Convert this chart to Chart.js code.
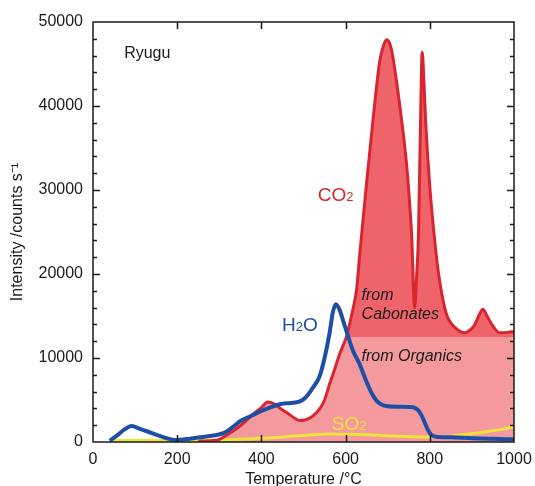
<!DOCTYPE html>
<html>
<head>
<meta charset="utf-8">
<title>Ryugu evolved gas</title>
<script src="https://cdn.jsdelivr.net/npm/chart.js@4.4.1/dist/chart.umd.min.js"></script>
<style>
  html, body { margin: 0; padding: 0; background: #fff; overflow: hidden; }
  canvas { display: block; }
</style>
</head>
<body>
<canvas id="egaChart" width="535" height="500"></canvas>
<script>
// ===== Evolved gas profiles (Ryugu) =====
const co2Temp   = [250, 280, 300, 320, 349, 380, 400, 415, 430, 445, 460, 480, 491, 505, 520, 538, 550, 562, 575, 586, 603, 616, 626, 633, 649, 665, 681, 690, 697, 705, 712, 728, 744, 752, 757, 764, 769, 773, 778, 782, 786, 790, 800, 815, 823, 839, 863, 883, 895, 906, 918, 926, 936, 946, 966, 985, 1000];
const co2Counts = [100, 150, 300, 900, 1900, 3300, 4100, 4750, 4550, 4000, 3500, 2800, 2550, 2650, 3000, 3900, 5000, 6900, 8800, 10500, 12700, 15500, 18100, 22000, 30400, 38300, 45300, 47200, 47900, 47400, 45900, 40300, 33500, 28500, 24500, 16000, 20000, 24500, 38300, 46400, 43000, 38300, 30400, 22400, 19300, 15300, 13500, 13000, 13300, 13900, 15200, 15800, 15000, 14100, 13000, 13050, 13150];

const h2oTemp   = [40, 55, 75, 92, 110, 130, 151, 175, 195, 230, 260, 290, 310, 330, 350, 375, 396, 420, 444, 470, 490, 505, 520, 538, 550, 562, 570, 577, 586, 595, 604, 618, 633, 647, 660, 672, 685, 700, 730, 760, 772, 780, 788, 796, 804, 820, 850, 900, 950, 1000];
const h2oCounts = [150, 700, 1500, 1900, 1600, 1250, 850, 450, 250, 400, 600, 800, 1050, 1700, 2500, 3100, 3600, 4100, 4500, 4650, 4800, 5300, 6300, 7800, 10000, 13000, 15500, 16400, 15700, 14300, 12900, 10800, 9300, 7500, 6000, 5000, 4450, 4250, 4200, 4150, 3800, 3200, 2300, 1400, 830, 600, 560, 450, 380, 320];

const so2Temp   = [40, 100, 200, 300, 400, 460, 520, 562, 633, 712, 792, 840, 871, 934, 970, 1000];
const so2Counts = [150, 200, 150, 250, 450, 630, 850, 950, 900, 710, 600, 650, 830, 1230, 1500, 1850];

// CO2 above this level is carbonate, below it organic
const ORGANIC_LEVEL = 12500;

const xTicks = [0, 200, 400, 600, 800, 1000];
const yTicks = [0, 10000, 20000, 30000, 40000, 50000];

const toPoints = (xs, ys) => xs.map((x, i) => ({ x: x, y: ys[i] }));

const FONT = "'Liberation Sans', Arial, Helvetica, sans-serif";
const RED = '#d7262f', BLUE = '#1e4fa6', YELLOW = '#efe23a';
const PINK_LIGHT = '#f49a9e', PINK_DARK = '#ef636b';

// text drawn inside the plot, placed in data units
const notes = [
    { text: 'Ryugu', sub: '', x: 74, y: 45700, color: '#1a1a1a', size: 16, italic: false },
    { text: 'CO', sub: '2', x: 534, y: 28700, color: RED, size: 19, italic: false },
    { text: 'H', sub: '2', tail: 'O', x: 449, y: 13200, color: BLUE, size: 19, italic: false },
    { text: 'SO', sub: '2', x: 567, y: 1450, color: YELLOW, size: 19, italic: false },
    { text: 'from', sub: '', x: 638, y: 16900, color: '#1a1a1a', size: 16, italic: true },
    { text: 'Cabonates', sub: '', x: 638, y: 14650, color: '#1a1a1a', size: 16, italic: true },
    { text: 'from Organics', sub: '', x: 638, y: 9650, color: '#1a1a1a', size: 16, italic: true }
];

// frame with inward ticks on all four sides, plus the in-plot labels
const framePlugin = {
    id: 'frame',
    afterDraw(chart) {
        const { ctx, chartArea: a, scales: { x, y } } = chart;
        ctx.save();
        ctx.strokeStyle = '#1a1a1a';
        ctx.lineWidth = 1.5;
        ctx.strokeRect(a.left, a.top, a.right - a.left, a.bottom - a.top);
        ctx.beginPath();
        xTicks.slice(1, -1).forEach(v => {
            const px = Math.round(x.getPixelForValue(v)) + 0.5;
            ctx.moveTo(px, a.bottom); ctx.lineTo(px, a.bottom - 7);
            ctx.moveTo(px, a.top); ctx.lineTo(px, a.top + 7);
        });
        for (let v = 2000; v < 50000; v += 2000) {
            const py = Math.round(y.getPixelForValue(v)) + 0.5;
            const len = v % 10000 ? 4 : 7;
            ctx.moveTo(a.left, py); ctx.lineTo(a.left + len, py);
            ctx.moveTo(a.right, py); ctx.lineTo(a.right - len, py);
        }
        ctx.stroke();

        ctx.textBaseline = 'alphabetic';
        ctx.textAlign = 'left';
        notes.forEach(n => {
            let px = x.getPixelForValue(n.x);
            const py = y.getPixelForValue(n.y);
            const style = n.italic ? 'italic ' : '';
            ctx.fillStyle = n.color;
            ctx.font = `${style}${n.size}px ${FONT}`;
            ctx.fillText(n.text, px, py);
            px += ctx.measureText(n.text).width;
            if (n.sub) {
                ctx.font = `${style}${Math.round(n.size * 0.7)}px ${FONT}`;
                ctx.fillText(n.sub, px, py);
                px += ctx.measureText(n.sub).width;
            }
            if (n.tail) {
                ctx.font = `${style}${n.size}px ${FONT}`;
                ctx.fillText(n.tail, px, py);
            }
        });
        ctx.restore();
    }
};

const co2Data = toPoints(co2Temp, co2Counts);

new Chart(document.getElementById('egaChart'), {
    type: 'line',
    data: {
        datasets: [
            { // whole CO2 area (organic part shows through)
                data: co2Data, borderWidth: 0, pointRadius: 0,
                backgroundColor: PINK_LIGHT, fill: 'origin',
                cubicInterpolationMode: 'monotone', order: 5
            },
            { // carbonate part above the organic level
                data: co2Data, borderWidth: 0, pointRadius: 0,
                fill: { target: { value: ORGANIC_LEVEL }, above: PINK_DARK, below: 'rgba(0,0,0,0)' },
                cubicInterpolationMode: 'monotone', order: 4
            },
            {
                label: 'SO2', data: toPoints(so2Temp, so2Counts),
                borderColor: YELLOW, borderWidth: 3, pointRadius: 0, fill: false,
                cubicInterpolationMode: 'monotone', order: 3
            },
            {
                label: 'CO2', data: co2Data,
                borderColor: RED, borderWidth: 3, pointRadius: 0, fill: false,
                cubicInterpolationMode: 'monotone', order: 2
            },
            {
                label: 'H2O', data: toPoints(h2oTemp, h2oCounts),
                borderColor: BLUE, borderWidth: 4, pointRadius: 0, fill: false,
                cubicInterpolationMode: 'monotone', order: 1
            }
        ]
    },
    options: {
        responsive: false, animation: false,
        layout: { padding: { top: 22, right: 21, left: 0, bottom: 0 } },
        plugins: { legend: { display: false }, tooltip: { enabled: false } },
        scales: {
            x: {
                type: 'linear', min: 0, max: 1000,
                afterBuildTicks: s => { s.ticks = xTicks.map(v => ({ value: v })); },
                afterFit: s => { s.height = 58; s.paddingLeft = 0; s.paddingRight = 0; },
                grid: { display: false, drawTicks: false }, border: { display: false },
                ticks: { color: '#1a1a1a', padding: 8, font: { family: FONT, size: 16 }, callback: v => String(v) },
                title: {
                    display: true, text: 'Temperature /°C', color: '#1a1a1a',
                    font: { family: FONT, size: 16 }, padding: { top: 0, bottom: 11 }
                }
            },
            y: {
                type: 'linear', min: 0, max: 50000,
                afterBuildTicks: s => { s.ticks = yTicks.map(v => ({ value: v })); },
                afterFit: s => { s.width = 93; s.paddingTop = 0; s.paddingBottom = 0; },
                grid: { display: false, drawTicks: false }, border: { display: false },
                ticks: { color: '#1a1a1a', padding: 10, font: { family: FONT, size: 16 }, callback: v => String(v) },
                title: {
                    display: true, text: 'Intensity /counts s⁻¹', color: '#1a1a1a',
                    font: { family: FONT, size: 16 }, padding: { top: 8, bottom: 0 }
                }
            }
        }
    },
    plugins: [framePlugin]
});
</script>
</body>
</html>
